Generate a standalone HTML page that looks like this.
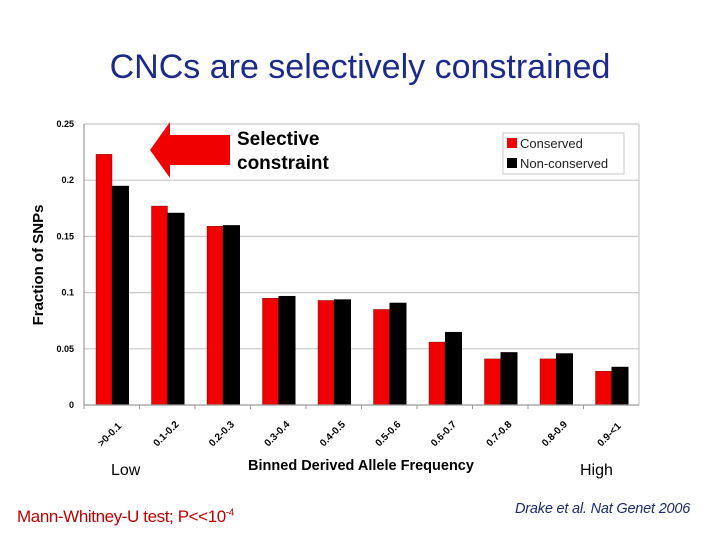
<!DOCTYPE html>
<html><head><meta charset="utf-8"><style>
body{margin:0;width:720px;height:540px;background:#fff;font-family:"Liberation Sans",sans-serif;overflow:hidden;position:relative}
.t{position:absolute;white-space:nowrap}
</style></head><body>
<div class="t" style="left:0;width:720px;text-align:center;top:48px;font-size:34px;color:#1c2a8c">CNCs are selectively constrained</div>
<svg id="chart" width="720" height="540" style="position:absolute;left:0;top:0"></svg>
<div class="t" style="left:111px;top:462px;font-size:16px">Low</div>
<div class="t" style="left:580px;top:462px;font-size:16px">High</div>
<div class="t" style="left:17px;top:507px;font-size:17px;color:#c00000;letter-spacing:-0.4px">Mann-Whitney-U test; P&lt;&lt;10<sup style="font-size:10px">-4</sup></div>
<div class="t" style="left:515px;top:501px;font-size:14.5px;font-style:italic;color:#1c2a6c;letter-spacing:-0.2px">Drake et al. Nat Genet 2006</div>
<script>
const categories=[">0-0.1","0.1-0.2","0.2-0.3","0.3-0.4","0.4-0.5","0.5-0.6","0.6-0.7","0.7-0.8","0.8-0.9","0.9-<1"];
const conserved=[0.223,0.177,0.159,0.095,0.093,0.085,0.056,0.041,0.041,0.030];
const nonConserved=[0.195,0.171,0.160,0.097,0.094,0.091,0.065,0.047,0.046,0.034];
const yTicks=[0,0.05,0.1,0.15,0.2,0.25];
const yTickLabels=["0","0.05","0.1","0.15","0.2","0.25"];
const svg=document.getElementById('chart');const NS='http://www.w3.org/2000/svg';
const X0=84,X1=639,Y0=405,Y1=124,YMAX=0.25;
const y=v=>Y0-(v/YMAX)*(Y0-Y1);
const bw=(X1-X0)/categories.length;
const x=i=>X0+i*bw;
function mk(t,a){const e=document.createElementNS(NS,t);for(const k in a)e.setAttribute(k,a[k]);svg.appendChild(e);return e;}
yTicks.forEach((v,i)=>{
 if(v>0){const g=mk('line',{x1:X0,x2:X1,y1:y(v),y2:y(v),stroke:'#c8c8c8','stroke-width':1.2});
 
 }
 const tl=mk('text',{x:X0-10,y:y(v)+3,'text-anchor':'end','font-size':9,'font-weight':'bold','font-family':'Liberation Sans, sans-serif'});
 tl.textContent=yTickLabels[i];
 
 
});
const rb=mk('line',{x1:X1,x2:X1,y1:Y1,y2:Y0,stroke:'#c8c8c8','stroke-width':1.2});


const ya=mk('line',{x1:X0,x2:X0,y1:Y1,y2:Y0,stroke:'#999','stroke-width':1.2});


categories.forEach((c,i)=>{
 const r=mk('rect',{x:x(i)+12,y:y(conserved[i]),width:16,height:Y0-y(conserved[i]),fill:'#f00000',stroke:'#600','stroke-width':0.4});
 
 
 const b=mk('rect',{x:x(i)+28,y:y(nonConserved[i]),width:17,height:Y0-y(nonConserved[i]),fill:'#000'});
 
 
 const tk=mk('line',{x1:x(i),x2:x(i),y1:Y0,y2:Y0+4,stroke:'#999'});
 
 
 const cx=x(i)+bw/2-10,cy=Y0+42;
 const t=mk('text',{x:cx,y:cy,'font-size':10,'font-weight':'bold','font-family':'Liberation Sans, sans-serif',transform:`rotate(-45 ${cx} ${cy})`});
 t.textContent=c;
 
 
});
const xa=mk('line',{x1:X0,x2:X1,y1:Y0,y2:Y0,stroke:'#999','stroke-width':1.2});


const xt=mk('text',{x:361,y:470,'text-anchor':'middle','font-size':14.5,'font-weight':'bold','font-family':'Liberation Sans, sans-serif'});
xt.textContent='Binned Derived Allele Frequency';


const yt=mk('text',{x:43,y:265,'text-anchor':'middle','font-size':15,'font-weight':'bold','font-family':'Liberation Sans, sans-serif',transform:'rotate(-90 43 265)'});
yt.textContent='Fraction of SNPs';


const lg=mk('rect',{x:503,y:133,width:121,height:41,fill:'#fff',stroke:'#c8c8c8'});


[['Conserved','#f00000',144],['Non-conserved','#000',164]].forEach(([n,col,yy])=>{
 const s=mk('rect',{x:507,y:yy-6,width:10,height:10,fill:col});
 
 
 const t=mk('text',{x:520,y:yy+4,'font-size':13,fill:'#222','font-family':'Liberation Sans, sans-serif'});
 t.textContent=n;
 
 
});
const ar=mk('polygon',{points:'150,150 170,122 170,135 230,135 230,165 170,165 170,178',fill:'#f00000'});


[['Selective',145],['constraint',169]].forEach(([s,yy])=>{
 const t=mk('text',{x:237,y:yy,'font-size':19,'font-weight':'bold','font-family':'Liberation Sans, sans-serif'});
 t.textContent=s;
 
 
});
</script>
</body></html>
